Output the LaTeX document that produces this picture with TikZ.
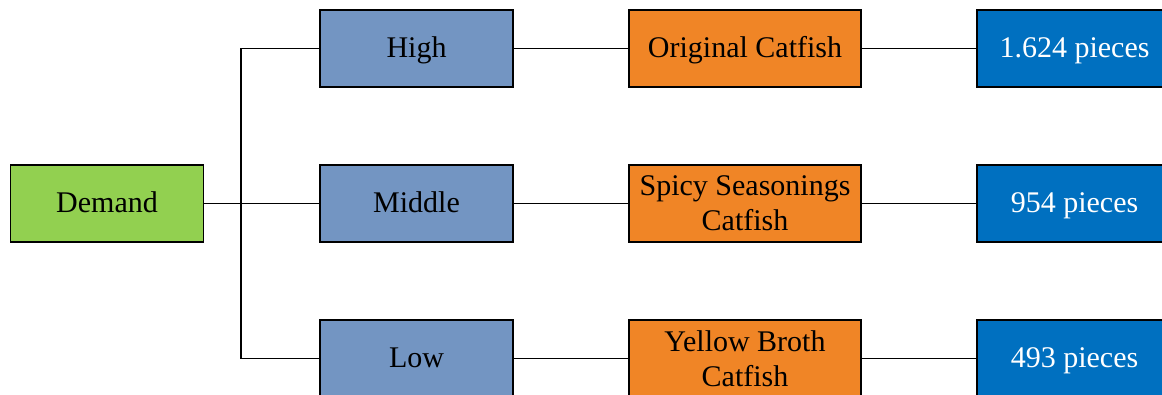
\documentclass[tikz,border=0pt]{standalone}
\usepackage{fontspec}
\setmainfont{Liberation Serif}
\definecolor{cgreen}{HTML}{92D050}
\definecolor{cgrey}{HTML}{7395C2}
\definecolor{corange}{HTML}{F08526}
\definecolor{cblue}{HTML}{0070C0}
\tikzset{
  box/.style={draw=black, line width=1.1pt, minimum width=144.75pt, minimum height=57.75pt,
    inner sep=0pt, align=center, font=\fontsize{22.5}{26.5}\selectfont},
  oneline/.style={text height=17pt, text depth=3.5pt},
  wide/.style={box, minimum width=174pt},
  numbox/.style={box, fill=cblue, text=white, minimum width=146.25pt, oneline},
  conn/.style={line width=1.35pt, black}
}
\begin{document}
\begin{tikzpicture}[x=0.75pt, y=-0.75pt]
\useasboundingbox (0,0) rectangle (1162,394);
\clip (0,0) rectangle (1162,394);
\node[box, oneline, fill=cgreen] (demand) at (107,203.5) {Demand};
\node[box, oneline, fill=cgrey] (high) at (416.5,48.5) {High};
\node[box, oneline, fill=cgrey] (middle) at (416.5,203.5) {Middle};
\node[box, oneline, fill=cgrey] (low) at (416.5,358.5) {Low};
\node[wide, oneline, fill=corange] (orig) at (745,48.5) {Original Catfish};
\node[wide, fill=corange] (spicy) at (745,203.5) {Spicy Seasonings\\Catfish};
\node[wide, fill=corange] (yellow) at (745,358.5) {Yellow Broth\\Catfish};
\node[numbox] (p1) at (1074.5,48.5) {1.624 pieces};
\node[numbox] (p2) at (1074.5,203.5) {954 pieces};
\node[numbox] (p3) at (1074.5,358.5) {493 pieces};
\coordinate (j) at (241,203.5);
\draw[conn] (demand) -- (j);
\draw[conn] (j) |- (high);
\draw[conn] (j) -- (middle);
\draw[conn] (j) |- (low);
\draw[conn] (high) -- (orig);
\draw[conn] (middle) -- (spicy);
\draw[conn] (low) -- (yellow);
\draw[conn] (orig) -- (p1);
\draw[conn] (spicy) -- (p2);
\draw[conn] (yellow) -- (p3);
\end{tikzpicture}
\end{document}
